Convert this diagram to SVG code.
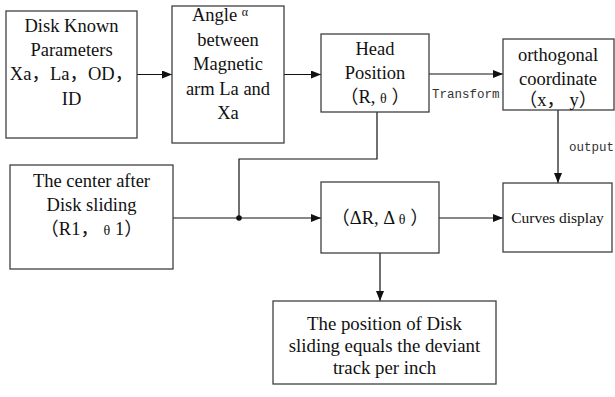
<svg xmlns="http://www.w3.org/2000/svg" width="615" height="397" viewBox="0 0 615 397">
<style>
.box{fill:#fff;stroke:#404040;stroke-width:1.3}
.t{font-family:"Liberation Serif","Noto Sans CJK SC",serif;font-size:18.5px;fill:#111;text-anchor:middle}
.lbl{font-family:"Liberation Mono",monospace;font-size:12.5px;fill:#333}
.c{fill:none;stroke:#111;stroke-width:1.2}
</style>
<defs>
<marker id="ah" viewBox="0 0 10 8" refX="10" refY="4" markerWidth="10" markerHeight="8" markerUnits="userSpaceOnUse" orient="auto">
<path d="M0,0 L10,4 L0,8 Z" fill="#111"/>
</marker>
</defs>
<g id="connectors">
<line class="c" x1="137" y1="74.5" x2="172" y2="74.5" marker-end="url(#ah)"/>
<line class="c" x1="284" y1="74.5" x2="321" y2="74.5" marker-end="url(#ah)"/>
<line class="c" x1="429" y1="74" x2="503" y2="74" marker-end="url(#ah)"/>
<polyline class="c" points="377,112 377,159 239,159 239,218"/>
<circle cx="239" cy="218" r="2.8" fill="#111"/>
<line class="c" x1="173" y1="218" x2="321" y2="218" marker-end="url(#ah)"/>
<line class="c" x1="439" y1="218" x2="503" y2="218" marker-end="url(#ah)"/>
<line class="c" x1="558" y1="110" x2="558" y2="183" marker-end="url(#ah)"/>
<line class="c" x1="380" y1="253" x2="380" y2="301" marker-end="url(#ah)"/>
<text class="lbl" x="432" y="98">Transform</text>
<text class="lbl" x="569" y="151">output</text>
</g>
<g id="known">
<rect class="box" x="6" y="11" width="131" height="127"/>
<text class="t" x="71.5" y="32">Disk Known</text>
<text class="t" x="71.5" y="56">Parameters</text>
<text class="t" x="71.5" y="80">Xa，La，OD，</text>
<text class="t" x="71.5" y="105">ID</text>
</g>
<g id="angle">
<rect class="box" x="172" y="6" width="112" height="137"/>
<text class="t" x="220" y="21">Angle <tspan font-size="12" dy="-5">α</tspan></text>
<text class="t" x="228" y="46">between</text>
<text class="t" x="228" y="70">Magnetic</text>
<text class="t" x="228" y="95">arm La and</text>
<text class="t" x="228" y="119">Xa</text>
</g>
<g id="head">
<rect class="box" x="321" y="34" width="108" height="78"/>
<text class="t" x="375" y="55">Head</text>
<text class="t" x="375" y="79">Position</text>
<text class="t" x="375" y="103">（R, <tspan font-size="14">θ</tspan> ）</text>
</g>
<g id="ortho">
<rect class="box" x="503" y="39" width="111" height="71"/>
<text class="t" x="558" y="61">orthogonal</text>
<text class="t" x="558" y="85">coordinate</text>
<text class="t" x="558" y="106">（x， y）</text>
</g>
<g id="center">
<rect class="box" x="10" y="165" width="163" height="104"/>
<text class="t" x="91.5" y="187">The center after</text>
<text class="t" x="91.5" y="211">Disk sliding</text>
<text class="t" x="91.5" y="235">（R1，  <tspan font-size="14">θ</tspan> 1）</text>
</g>
<g id="delta">
<rect class="box" x="321" y="182" width="118" height="71"/>
<text class="t" x="380" y="224">（ΔR, Δ  <tspan font-size="14">θ</tspan> ）</text>
</g>
<g id="curves">
<rect class="box" x="503" y="183" width="109" height="69"/>
<text class="t" x="557.5" y="223" style="font-size:15.5px">Curves display</text>
</g>
<g id="result">
<rect class="box" x="273" y="301" width="223" height="83"/>
<text class="t" x="384.5" y="330" style="font-size:18.8px">The position of Disk</text>
<text class="t" x="384.5" y="352" style="font-size:18.8px">sliding equals the deviant</text>
<text class="t" x="384.5" y="374" style="font-size:18.8px">track per inch</text>
</g>
</svg>
